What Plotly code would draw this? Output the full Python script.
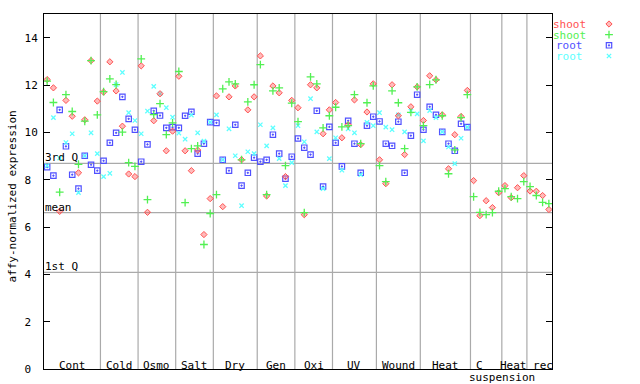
import plotly.graph_objects as go

# ---------------- data ----------------
groups = ["Cont", "Cold", "Osmo", "Salt", "Dry", "Gen", "Oxi", "UV",
          "Wound", "Heat", "C suspension", "Heat rec"]
group_sizes = [9, 6, 6, 6, 7, 6, 6, 7, 7, 8, 5, 8]
sub_splits = {"Heat rec": [4]}   # extra divider inside a group (after n samples)

shoot_red = [12.23, 11.88, 6.66, 11.35, 10.68, 8.29, 10.53, 13.03, 11.32,
             11.70, 12.98, 11.75, 10.26, 8.24, 8.13,
             12.81, 6.62, 10.49, 11.63, 9.22, 10.05,
             12.37, 9.22, 8.38, 9.25, 5.68, 7.20,
             11.54, 6.86, 11.50, 11.96, 8.84, 10.95, 11.50,
             13.23, 7.31, 11.96, 11.67, 8.13, 11.35,
             11.04, 6.52, 12.01, 11.88, 9.94, 10.95,
             11.26, 9.77, 10.32, 11.37, 9.48, 10.86, 12.05,
             8.84, 7.83, 12.01, 10.70, 9.06, 11.08, 11.92,
             10.50, 12.39, 12.22, 10.74, 8.46, 9.90, 10.67, 11.77,
             7.96, 6.48, 7.11, 6.82, 7.45,
             7.75, 7.24, 7.66, 8.17, 7.52, 7.51, 7.33, 6.74]

shoot_green = [12.16, 11.26, 7.47, 11.59, 10.88, 8.65, 10.47, 13.03, 10.74,
               11.72, 12.26, 12.02, 10.01, 8.72, 8.56,
               13.10, 7.16, 10.75, 11.21, 9.90, 10.40,
               12.57, 7.03, 9.31, 9.43, 5.26, 6.57,
               7.37, 11.84, 12.13, 12.05, 8.84, 11.29, 12.01,
               12.86, 7.37, 11.75, 11.88, 8.59, 11.23,
               10.45, 6.61, 12.34, 12.05, 10.19, 10.70,
               11.06, 10.23, 10.28, 11.59, 9.52, 11.25, 11.96,
               8.59, 7.92, 11.75, 11.25, 9.31, 10.84, 11.92,
               10.28, 12.02, 12.22, 10.70, 8.25, 9.26, 10.62, 11.59,
               7.28, 6.62, 6.52, 6.61, 7.51,
               7.62, 7.28, 7.20, 7.92, 7.71, 7.33, 7.04, 6.99]

root_blue = [8.53, 8.17, 10.95, 9.41, 8.21, 7.62, 9.01, 8.63, 8.38,
             8.80, 9.56, 9.98, 11.50, 10.57, 10.11,
             8.76, 9.49, 10.91, 10.71, 10.19, 10.22,
             10.19, 10.70, 10.87, 9.10, 9.52, 10.43,
             10.40, 8.84, 8.38, 10.32, 7.75, 8.29, 8.93,
             8.76, 8.84, 9.90, 9.10, 8.04, 8.97,
             9.74, 9.35, 9.06, 10.91, 7.71, 10.23,
             9.56, 8.56, 10.49, 9.52, 8.29, 10.28, 10.66,
             10.46, 9.52, 9.43, 10.45, 8.29, 9.86, 11.59,
             10.11, 11.08, 10.74, 10.02, 9.52, 9.22, 10.36, 10.22]

root_cyan = [8.59, 10.62, 8.91, 9.57, 9.94, 7.45, 9.01, 9.98, 9.10,
             8.13, 8.27, 12.02, 12.53, 10.83, 10.50,
             9.94, 10.90, 11.94, 11.63, 11.04, 10.64,
             9.97, 9.71, 10.73, 9.98, 9.63, 10.43,
             10.74, 8.84, 10.15, 9.01, 6.90, 9.18, 9.10,
             10.32, 9.43, 10.19, 8.89, 7.75, 8.72,
             10.28, 9.60, 11.42, 10.02, 7.62, 8.89,
             9.77, 8.40, 10.15, 9.98, 8.21, 10.42, 10.28,
             10.83, 10.22, 10.11, 10.74, 10.02, 10.90, 10.78,
             9.64, 10.92, 10.62, 10.02, 9.38, 8.68, 9.75, 10.22]

quartile_labels = ["3rd Q", "mean", "1st Q"]
quartile_values = [8.69, 6.61, 4.08]

legend_labels = ["shoot", "shoot", "root", "root"]
y_ticks = [0, 2, 4, 6, 8, 10, 12, 14]
y_max = 15

# ---------------- style / layout constants ----------------
RED, GREEN, BLUE, CYAN = "#ff5252", "#52f052", "#5050ff", "#5cffff"
GRID = "#aaaaaa"
FONT = "DejaVu Sans Mono"
W, H = 640, 384
PL, PR, PT, PB = 44, 552, 14, 369          # plot box in pixels
LEG_TEXT_X, LEG_MARK_X = 569, 609
LEG_ROWS = [24, 34.7, 45.3, 56]

n = len(shoot_red)
xs = list(range(n))


def fx(px):
    return px / W


def fy(py):
    return 1 - py / H


styles = [
    dict(symbol="square-open-dot", size=5.4, color=BLUE, line=dict(width=1.2, color=BLUE)),
    dict(symbol="x-thin-open", size=4.3, color=CYAN, line=dict(width=1.3, color=CYAN)),
    dict(symbol="diamond", size=4.8, color="rgba(255,82,82,0.4)", line=dict(width=1.0, color=RED)),
    dict(symbol="cross-thin-open", size=5.6, color=GREEN, line=dict(width=1.3, color=GREEN)),
]
series = [root_blue, root_cyan, shoot_red, shoot_green]

fig = go.Figure()
for vals, st in zip(series, styles):
    fig.add_trace(go.Scatter(x=xs[:len(vals)], y=vals, mode="markers",
                             marker=st, showlegend=False, hoverinfo="skip"))

shapes = []
annotations = []

# group dividers and labels
start = 0
for gi, (name, size) in enumerate(zip(groups, group_sizes)):
    end = start + size
    if gi < len(groups) - 1:
        shapes.append(dict(type="line", xref="x", yref="y domain", x0=end - 0.5, x1=end - 0.5,
                           y0=0, y1=1, line=dict(color=GRID, width=1.2), layer="below"))
    for s in sub_splits.get(name, []):
        shapes.append(dict(type="line", xref="x", yref="y domain", x0=start + s - 0.5,
                           x1=start + s - 0.5, y0=0, y1=1,
                           line=dict(color=GRID, width=1.2), layer="below"))
    center = start + (size - 1) / 2
    if name == "C suspension":
        first, rest = name.split(" ", 1)
        annotations.append(dict(text=first, x=center - 1.1, xref="x", xanchor="center",
                                y=0, yref="y domain", yanchor="bottom", showarrow=False,
                                yshift=-5))
        annotations.append(dict(text=rest, x=end - 0.5, xref="x", xanchor="center",
                                y=0, yref="y domain", yanchor="top", showarrow=False,
                                yshift=0))
    else:
        annotations.append(dict(text=name, x=center, xref="x", xanchor="center",
                                y=0, yref="y domain", yanchor="bottom", showarrow=False,
                                yshift=-5))
    start = end

# quartile lines
for lab, v in zip(quartile_labels, quartile_values):
    shapes.append(dict(type="line", xref="x domain", yref="y", x0=0, x1=1, y0=v, y1=v,
                       line=dict(color=GRID, width=1.2), layer="below"))
    annotations.append(dict(text=lab, x=0, xref="x domain", xanchor="left", y=v, yref="y",
                            yanchor="bottom", showarrow=False, yshift=-3, xshift=-1))

# y title
annotations.append(dict(text="affy-normalized expression", textangle=-90,
                        x=fx(11.5), xref="paper", xanchor="center",
                        y=fy(197), yref="paper", yanchor="middle", showarrow=False))

# legend (text left, symbol right)
leg_colors = [RED, GREEN, BLUE, CYAN]
leg_styles = [styles[2], styles[3], styles[0], styles[1]]
for lab, col, row in zip(legend_labels, leg_colors, LEG_ROWS):
    annotations.append(dict(text=lab, x=fx(LEG_TEXT_X), xref="paper", xanchor="center",
                            y=fy(row), yref="paper", yanchor="middle", showarrow=False,
                            height=10, font=dict(color=col)))
for st, row in zip(leg_styles, LEG_ROWS):
    fig.add_trace(go.Scatter(x=[LEG_MARK_X], y=[row], xaxis="x2", yaxis="y2",
                             mode="markers", marker=st, showlegend=False, hoverinfo="skip"))

tick_text = [str(t) if t >= 10 else str(t) + "\u00a0" for t in y_ticks]

fig.update_layout(
    width=W, height=H,
    margin=dict(l=0, r=0, t=0, b=0, pad=0, autoexpand=False),
    plot_bgcolor="rgba(0,0,0,0)", paper_bgcolor="white",
    font=dict(family=FONT, size=11, color="black"),
    showlegend=False, shapes=shapes, annotations=annotations,
    xaxis=dict(domain=[fx(PL), fx(PR)], range=[-0.5, n - 0.5], showgrid=False,
               zeroline=False, showticklabels=False, ticks="", showline=True,
               linecolor="black", linewidth=1, mirror=True),
    yaxis=dict(domain=[fy(PB), fy(PT)], range=[0, y_max], tickvals=y_ticks,
               ticktext=tick_text, ticks="inside", ticklen=6, tickcolor="black",
               tickwidth=1, showline=True, linecolor="black", linewidth=1,
               mirror="ticks", showgrid=False, zeroline=False, ticklabelstandoff=3),
    xaxis2=dict(domain=[0, 1], range=[0, W], visible=False, anchor="y2"),
    yaxis2=dict(domain=[0, 1], range=[H, 0], visible=False, anchor="x2"),
)

fig.write_html("out.html", config={"displayModeBar": False},
               post_script="document.body.style.margin='0';")
